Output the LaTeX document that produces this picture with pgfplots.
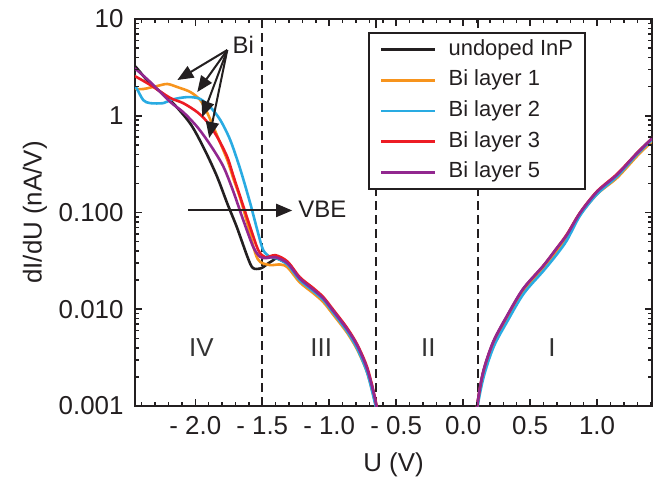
\documentclass[border=0pt]{standalone}
\usepackage{fontspec}
\setmainfont{Liberation Sans}
\usepackage{pgfplots}
\pgfplotsset{compat=1.18}
\usetikzlibrary{arrows.meta}
\definecolor{cBlack}{HTML}{231F20}
\definecolor{cOrange}{HTML}{F7941D}
\definecolor{cCyan}{HTML}{29ABE2}
\definecolor{cRed}{HTML}{ED1C24}
\definecolor{cPurple}{HTML}{92278F}
\begin{document}
\begin{tikzpicture}
\path (-135bp,-75bp) rectangle (527bp,406bp);
\begin{axis}[
  at={(0,0)}, anchor=south west,
  width=517bp, height=387bp, scale only axis,
  ymode=log, xmin=-2.45, xmax=1.41, ymin=0.001, ymax=10,
  axis line style={line width=2.5bp, draw=cBlack},
  tick style={line width=1.5bp, draw=cBlack},
  major tick length=7bp, minor tick length=4bp,
  xtick={-2,-1.5,-1,-0.5,0,0.5,1},
  xticklabels={- 2.0,- 1.5,- 1.0,- 0.5,0.0,0.5,1.0},
  minor x tick num=4,
  ytick={0.001,0.01,0.1,1,10},
  yticklabels={0.001,0.010,0.100,1,10},
  ticklabel style={font=\fontsize{26}{30}\selectfont, text=cBlack},
  xticklabel style={yshift=-7bp},
  yticklabel style={xshift=-8bp},
  xlabel={U (V)}, ylabel={dI/dU (nA/V)},
  every axis x label/.style={at={(axis description cs:0.5,-0.1525)}, anchor=center, font=\fontsize{26}{30}\selectfont, text=cBlack},
  every axis y label/.style={at={(axis description cs:-0.1934,0.5)}, anchor=center, rotate=90, font=\fontsize{26}{30}\selectfont, text=cBlack},
  legend style={at={(rel axis cs:0.8723,0.9664)}, anchor=north east, draw=cBlack, line width=2bp, fill=white,
    font=\fontsize{22}{26}\selectfont, text=cBlack,
    nodes={inner sep=1bp, text height=16bp, text depth=5bp},
    row sep=7.7bp, column sep=11bp, inner xsep=11bp, inner ysep=5bp},
  legend cell align=left,
  legend image code/.code={\draw[#1] (0bp,0bp) -- (54bp,0bp);},
  every axis plot/.append style={line width=2.6bp, smooth, tension=0.5},
]
% dashed boundaries
\draw[line width=2bp, dash pattern=on 9bp off 5bp, cBlack] (axis cs:-1.5,0.001) -- (axis cs:-1.5,10);
\draw[line width=2bp, dash pattern=on 9bp off 5bp, cBlack] (axis cs:-0.649,0.001) -- (axis cs:-0.649,10);
\draw[line width=2bp, dash pattern=on 9bp off 5bp, cBlack] (axis cs:0.112,0.001) -- (axis cs:0.112,10);

\addplot[cBlack] coordinates {
(-2.46,3.3) (-2.44,3.15) (-2.34,2.18) (-2.19,1.46) (-2.04,0.84) (-1.94,0.475) (-1.84,0.24)
(-1.76,0.123) (-1.69,0.0708) (-1.61,0.0347) (-1.57,0.0267) (-1.51,0.0265) (-1.46,0.0295) (-1.42,0.032)
(-1.39,0.0335) (-1.31,0.0290) (-1.22,0.0205) (-1.12,0.0158) (-1.045,0.0128) (-0.97,0.0095)
(-0.866,0.0061) (-0.79,0.0041) (-0.716,0.00236) (-0.657,0.00115) (-0.63,0.0007)
};
\addlegendentry{undoped InP}
\addplot[cOrange] coordinates {
(-2.46,1.90) (-2.388,1.89) (-2.284,2.03) (-2.209,2.13) (-2.134,1.98) (-2.037,1.76) (-1.963,1.45)
(-1.91,1.07) (-1.836,0.62) (-1.761,0.349) (-1.716,0.225) (-1.664,0.14) (-1.612,0.0779)
(-1.552,0.0381) (-1.515,0.0308) (-1.44,0.0286) (-1.366,0.0290)
(-1.31,0.0270) (-1.22,0.0190) (-1.12,0.0147) (-1.045,0.0119) (-0.97,0.0088)
(-0.866,0.0057) (-0.79,0.0038) (-0.716,0.0022) (-0.657,0.00108) (-0.63,0.0007)
};
\addlegendentry{Bi layer 1}
\addplot[cCyan] coordinates {
(-2.46,1.97) (-2.44,1.94) (-2.388,1.45) (-2.336,1.35) (-2.239,1.35) (-2.187,1.45) (-2.112,1.53)
(-2.037,1.56) (-1.963,1.49) (-1.888,1.23) (-1.813,0.903) (-1.739,0.561) (-1.664,0.28)
(-1.59,0.125) (-1.537,0.0659) (-1.493,0.041) (-1.44,0.0347)
(-1.39,0.0335) (-1.31,0.0288) (-1.22,0.0200) (-1.12,0.0154) (-1.045,0.0125) (-0.97,0.0092)
(-0.866,0.0059) (-0.79,0.0039) (-0.716,0.0022) (-0.657,0.00105) (-0.63,0.0007)
};
\addlegendentry{Bi layer 2}
\addplot[cRed] coordinates {
(-2.46,2.58) (-2.44,2.52) (-2.336,2.08) (-2.187,1.53) (-2.09,1.35) (-1.985,1.09) (-1.91,0.861)
(-1.836,0.603) (-1.761,0.375) (-1.716,0.24) (-1.664,0.145) (-1.59,0.0708) (-1.53,0.041)
(-1.478,0.0345) (-1.40,0.0362)
(-1.31,0.0310) (-1.22,0.0215) (-1.12,0.0166) (-1.045,0.0134) (-0.97,0.0099)
(-0.866,0.0064) (-0.79,0.0043) (-0.716,0.0025) (-0.657,0.0012) (-0.63,0.0007)
};
\addlegendentry{Bi layer 3}
\addplot[cPurple] coordinates {
(-2.46,3.1) (-2.44,3.0) (-2.336,2.23) (-2.187,1.39) (-2.09,1.09) (-1.985,0.766) (-1.888,0.50)
(-1.791,0.30) (-1.716,0.165) (-1.642,0.0836) (-1.567,0.044) (-1.515,0.0347) (-1.463,0.0339)
(-1.40,0.0345)
(-1.31,0.0298) (-1.22,0.0208) (-1.12,0.0160) (-1.045,0.0130) (-0.97,0.0096)
(-0.866,0.0062) (-0.79,0.0042) (-0.716,0.0024) (-0.657,0.00117) (-0.63,0.0007)
};
\addlegendentry{Bi layer 5}

% region I (same series, positive bias)
\addplot[cBlack, forget plot] coordinates {
(0.095,0.0006) (0.104,0.00098) (0.149,0.00219) (0.224,0.00448) (0.328,0.0083) (0.448,0.0158)
(0.597,0.0273) (0.70,0.042) (0.776,0.0585) (0.873,0.0988) (1.0,0.163) (1.149,0.244) (1.30,0.412) (1.42,0.60)
};
\addplot[cOrange, forget plot] coordinates {
(0.095,0.0006) (0.104,0.00098) (0.149,0.00215) (0.224,0.0044) (0.328,0.0081) (0.448,0.0152)
(0.597,0.0262) (0.70,0.040) (0.776,0.0565) (0.873,0.095) (1.0,0.155) (1.149,0.228) (1.30,0.385) (1.42,0.56)
};
\addplot[cCyan, forget plot] coordinates {
(0.098,0.0006) (0.108,0.00098) (0.153,0.00200) (0.228,0.0041) (0.332,0.0076) (0.452,0.0145)
(0.60,0.025) (0.70,0.037) (0.776,0.052) (0.873,0.093) (1.0,0.155) (1.149,0.236) (1.30,0.40) (1.42,0.58)
};
\addplot[cRed, forget plot] coordinates {
(0.095,0.0006) (0.104,0.00098) (0.149,0.00222) (0.224,0.00455) (0.328,0.0085) (0.448,0.0162)
(0.597,0.028) (0.70,0.043) (0.776,0.060) (0.873,0.100) (1.0,0.166) (1.149,0.25) (1.30,0.415) (1.42,0.60)
};
\addplot[cPurple, forget plot] coordinates {
(0.095,0.0006) (0.104,0.001) (0.149,0.00225) (0.224,0.0046) (0.328,0.0086) (0.448,0.0163)
(0.597,0.028) (0.70,0.043) (0.776,0.059) (0.873,0.099) (1.0,0.164) (1.149,0.246) (1.30,0.413) (1.42,0.60)
};

% annotations
\node[font=\fontsize{24}{28}\selectfont, text=cBlack] at (axis cs:-1.642,5.39) {Bi};
\draw[cBlack, line width=2bp, -{Triangle[length=16bp,width=13bp]}] (axis cs:-1.761,4.78) -- (axis cs:-2.134,2.34);
\draw[cBlack, line width=2bp, -{Triangle[length=16bp,width=13bp]}] (axis cs:-1.761,4.78) -- (axis cs:-1.985,1.76);
\draw[cBlack, line width=2bp, -{Triangle[length=16bp,width=13bp]}] (axis cs:-1.761,4.78) -- (axis cs:-1.948,0.971);
\draw[cBlack, line width=2bp, -{Triangle[length=16bp,width=13bp]}] (axis cs:-1.761,4.78) -- (axis cs:-1.896,0.589);
\draw[cBlack, line width=2bp, -{Triangle[length=16bp,width=13bp]}] (axis cs:-2.052,0.105) -- (axis cs:-1.276,0.105);
\node[font=\fontsize{24}{28}\selectfont, text=cBlack, anchor=west, inner sep=0pt] at (axis cs:-1.231,0.108) {VBE};

\node[font=\fontsize{26}{30}\selectfont, text=black!80] at (axis cs:-1.955,0.00398) {IV};
\node[font=\fontsize{26}{30}\selectfont, text=black!80] at (axis cs:-1.06,0.00398) {III};
\node[font=\fontsize{26}{30}\selectfont, text=black!80] at (axis cs:-0.26,0.00398) {II};
\node[font=\fontsize{26}{30}\selectfont, text=black!80] at (axis cs:0.664,0.00398) {I};
\end{axis}
% frame tick marks (axis box: 517bp x 387bp at the origin; 1 V = 133.94bp, 1 decade = 96.75bp)
\foreach \u in {-2,-1.5,-1,-0.5,0,0.5,1} {
  \pgfmathsetmacro\xx{(\u+2.45)*133.9378}
  \draw[line width=1.5bp, cBlack] (\xx bp,0bp) -- (\xx bp,7bp);
  \draw[line width=1.5bp, cBlack] (\xx bp,387bp) -- (\xx bp,380bp);
}
\foreach \u in {-2.4,-2.3,-2.2,-2.1,-1.9,-1.8,-1.7,-1.6,-1.4,-1.3,-1.2,-1.1,-0.9,-0.8,-0.7,-0.6,-0.4,-0.3,-0.2,-0.1,0.1,0.2,0.3,0.4,0.6,0.7,0.8,0.9,1.1,1.2,1.3,1.4} {
  \pgfmathsetmacro\xx{(\u+2.45)*133.9378}
  \draw[line width=1.3bp, cBlack] (\xx bp,0bp) -- (\xx bp,4bp);
  \draw[line width=1.3bp, cBlack] (\xx bp,387bp) -- (\xx bp,383bp);
}
\foreach \d in {0,1,2,3,4} {
  \pgfmathsetmacro\yy{\d*96.75}
  \draw[line width=1.5bp, cBlack] (0bp,\yy bp) -- (7bp,\yy bp);
  \draw[line width=1.5bp, cBlack] (517bp,\yy bp) -- (510bp,\yy bp);
}
\foreach \d in {0,1,2,3} {
  \foreach \k in {2,3,4,5,6,7,8,9} {
    \pgfmathsetmacro\yy{(\d+log10(\k))*96.75}
    \draw[line width=1.3bp, cBlack] (0bp,\yy bp) -- (4bp,\yy bp);
    \draw[line width=1.3bp, cBlack] (517bp,\yy bp) -- (513bp,\yy bp);
  }
}
\end{tikzpicture}
\end{document}
